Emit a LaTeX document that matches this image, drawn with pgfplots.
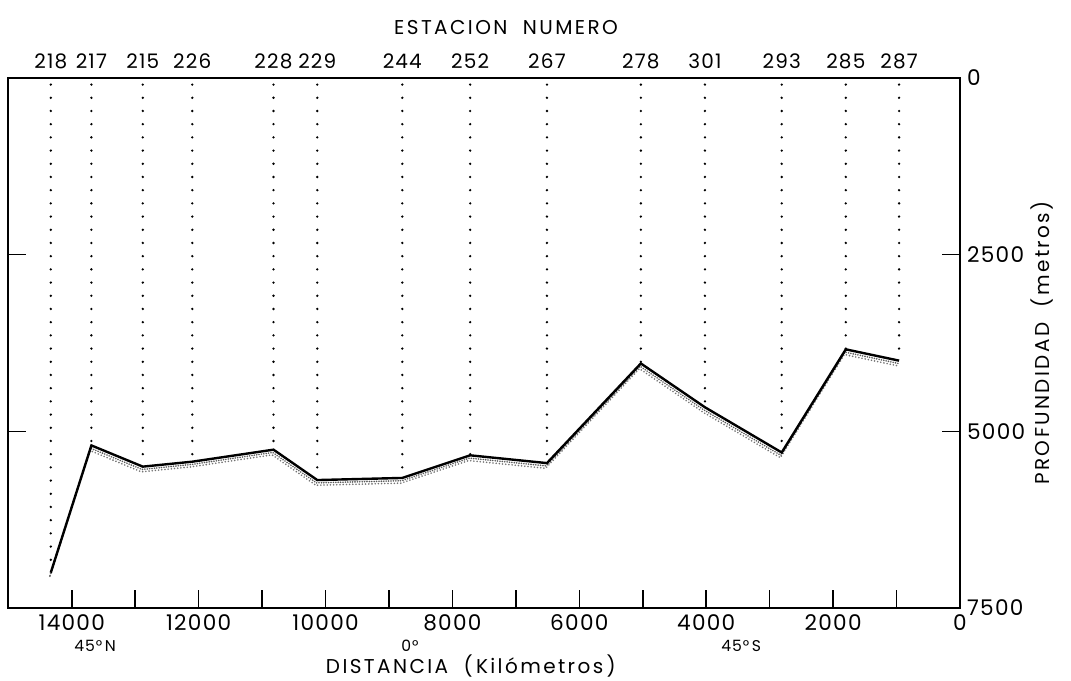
\documentclass[border=0pt]{standalone}
\usepackage{fontspec}
\setmainfont{Poppins}
\newfontfamily\spaced[LetterSpace=12]{Poppins}
\newfontfamily\ticksp[LetterSpace=6]{Poppins}
\usepackage{pgfplots}
\usepackage{pgfplotstable}
\pgfplotsset{compat=1.18}

% station, distance (km) and depth (m)
\pgfplotstableread{
dist depth st
14330 7000 218
13690 5200 217
12880 5500 215
12100 5430 226
10820 5260 228
10130 5690 229
8790 5660 244
7720 5340 252
6510 5450 267
5030 4040 278
4020 4660 301
2810 5300 293
1800 3840 285
960 4000 287
}\stations

\begin{document}
\begin{tikzpicture}
\pgfplotsset{
  every axis/.append style={
    scale only axis, width=475.9pt, height=265pt,
    xmin=0, xmax=15000, ymin=0, ymax=7500,
    x dir=reverse, y dir=reverse, clip=false,
    scaled x ticks=false, scaled y ticks=false,
  },
}
\begin{axis}[
  axis line style={line width=0.8pt},
  xtick={0,2000,...,14000},
  minor xtick={1000,3000,...,13000},
  xtick pos=lower,
  ytick={0,2500,5000,7500},
  ytick pos=both,
  yticklabel pos=right,
  tick align=inside,
  major tick length=9pt, minor tick length=9pt,
  tick style={line width=0.8pt, black},
  /pgf/number format/1000 sep={},
  /pgf/number format/assume math mode=true,
  tick label style={font=\ticksp\fontsize{10.8}{13}\selectfont},
]
\addplot[black!65, line width=0.9pt, dash pattern=on 0pt off 1.2pt, line cap=round, yshift=-1.4pt, xshift=-0.4pt] table[x=dist, y=depth]{\stations};
\addplot[black!55, line width=0.9pt, dash pattern=on 0pt off 1.6pt, dash phase=0.8pt, line cap=round, yshift=-2.6pt, xshift=-0.7pt] table[x=dist, y=depth]{\stations};
\addplot[black, line width=1.2pt] table[x=dist, y=depth]{\stations};

\node[font=\spaced] at ([yshift=25pt]axis description cs:0.523,1) {ESTACION\ \ NUMERO};
\node[font=\spaced] at ([yshift=-29pt]axis description cs:0.486,0) {DISTANCIA\ \ (\,Kilómetros\,)};
\node[font=\spaced, rotate=90] at ([xshift=41pt]axis description cs:1,0.5) {PROFUNDIDAD\ \ (metros)};
\node[font=\ticksp\fontsize{7.8}{9}\selectfont] at ([yshift=-19pt]axis cs:13630,7500) {45°\,N};
\node[font=\ticksp\fontsize{7.8}{9}\selectfont] at ([yshift=-19pt]axis cs:8670,7500) {0°};
\node[font=\ticksp\fontsize{7.8}{9}\selectfont] at ([yshift=-19pt]axis cs:3450,7500) {45°\,S};

\coordinate (ll) at (axis description cs:0,0);
\coordinate (ur) at (axis description cs:1,1);
\end{axis}

\begin{axis}[
  hide y axis,
  axis x line*=top,
  axis line style={draw=none},
  xtick=data,
  xticklabels from table={\stations}{st},
  major tick length=0pt,
  xticklabel style={font=\ticksp\fontsize{10}{12}\selectfont, yshift=1pt},
]
\addplot[ycomb, black, line width=1.3pt, dash pattern=on 0pt off 6.6pt, dash phase=3.3pt, line cap=round, mark=none] table[x=dist, y=depth]{\stations};
\end{axis}

\pgfresetboundingbox
\path ([shift={(-4.15pt,-36.5pt)}]ll) rectangle ([shift={(55.5pt,39pt)}]ur);
\end{tikzpicture}
\end{document}
